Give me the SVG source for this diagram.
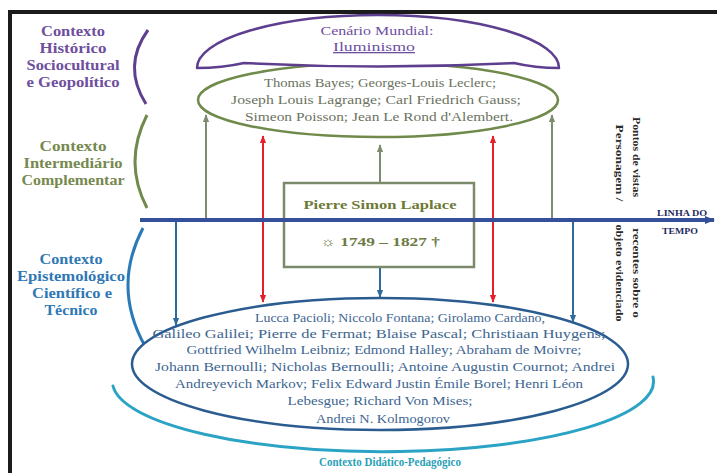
<svg xmlns="http://www.w3.org/2000/svg" width="717" height="473" viewBox="0 0 717 473">
  <defs>
    <style>
      text { font-family: "Liberation Serif", "Times New Roman", serif; }
      .lbl { font-weight: bold; font-size: 14px; text-anchor: middle; }
      .pur { fill: #6e4f9e; }
      .grn { fill: #76894f; }
      .blu { fill: #2f78b5; }
      .names { font-size: 12.5px; text-anchor: middle; }
      .gnames { fill: #6b7260; }
      .bnames { fill: #3d6591; }
      .vert { font-weight: bold; font-size: 11px; text-anchor: middle; fill: #2a2a2a; }
      .conn line { fill: none; }
      .g-arrow { stroke: #7d8c6d; stroke-width: 2; marker-end: url(#ahG); }
      .r-arrow { stroke: #e3202c; stroke-width: 2; marker-start: url(#ahR); marker-end: url(#ahR); }
      .b-arrow { stroke: #2f6a9c; stroke-width: 2; marker-end: url(#ahB); }
    </style>
    <marker id="ahG" viewBox="0 0 10 10" refX="9" refY="5" markerWidth="8" markerHeight="8" markerUnits="userSpaceOnUse" orient="auto">
      <path d="M0,1 L10,5 L0,9 z" fill="#7d8c6d"/>
    </marker>
    <marker id="ahR" viewBox="0 0 10 10" refX="9" refY="5" markerWidth="8" markerHeight="8" markerUnits="userSpaceOnUse" orient="auto-start-reverse">
      <path d="M0,1 L10,5 L0,9 z" fill="#e3202c"/>
    </marker>
    <marker id="ahB" viewBox="0 0 10 10" refX="9" refY="5" markerWidth="8" markerHeight="8" markerUnits="userSpaceOnUse" orient="auto">
      <path d="M0,1 L10,5 L0,9 z" fill="#2f6a9c"/>
    </marker>
    <marker id="ahT" viewBox="0 0 10 10" refX="9" refY="5" markerWidth="10" markerHeight="10" markerUnits="userSpaceOnUse" orient="auto">
      <path d="M0,1 L10,5 L0,9 z" fill="#34509a"/>
    </marker>
  </defs>

  <rect width="717" height="473" fill="#ffffff"/>

  <!-- frame -->
  <rect x="8" y="10" width="709" height="4" fill="#1b1b1b"/>
  <rect x="8" y="10" width="4" height="463" fill="#1b1b1b"/>

  <!-- left context labels with brackets -->
  <g id="ctx-historico">
    <text class="lbl pur" x="73" y="36" textLength="64" lengthAdjust="spacingAndGlyphs">Contexto</text>
    <text class="lbl pur" x="73" y="53" textLength="67" lengthAdjust="spacingAndGlyphs">Histórico</text>
    <text class="lbl pur" x="73" y="70" textLength="93" lengthAdjust="spacingAndGlyphs">Sociocultural</text>
    <text class="lbl pur" x="73" y="87" textLength="93" lengthAdjust="spacingAndGlyphs">e Geopolítico</text>
    <path d="M148,30 Q122,66 146,104" fill="none" stroke="#5e3f8f" stroke-width="3"/>
  </g>
  <g id="ctx-intermediario">
    <text class="lbl grn" x="73" y="151" textLength="67" lengthAdjust="spacingAndGlyphs">Contexto</text>
    <text class="lbl grn" x="73" y="168" textLength="99" lengthAdjust="spacingAndGlyphs">Intermediário</text>
    <text class="lbl grn" x="73" y="185" textLength="103" lengthAdjust="spacingAndGlyphs">Complementar</text>
    <path d="M147,115 Q123,162 147,208" fill="none" stroke="#6f8a4a" stroke-width="3"/>
  </g>
  <g id="ctx-epistemologico">
    <text class="lbl blu" x="71" y="264" textLength="63" lengthAdjust="spacingAndGlyphs">Contexto</text>
    <text class="lbl blu" x="71" y="281" textLength="108" lengthAdjust="spacingAndGlyphs">Epistemológico</text>
    <text class="lbl blu" x="72" y="298" textLength="80" lengthAdjust="spacingAndGlyphs">Científico e</text>
    <text class="lbl blu" x="71" y="315" textLength="53" lengthAdjust="spacingAndGlyphs">Técnico</text>
    <path d="M143,228 Q112,287 145,346" fill="none" stroke="#2a7ab8" stroke-width="3"/>
  </g>

  <!-- contemporaries ellipse -->
  <g id="contemporaneos">
    <ellipse cx="378" cy="100" rx="180" ry="37" fill="#ffffff" stroke="#6f8a4a" stroke-width="2.5"/>
    <text class="names gnames" x="380" y="87" textLength="232" lengthAdjust="spacingAndGlyphs">Thomas Bayes; Georges-Louis Leclerc;</text>
    <text class="names gnames" x="376" y="104" textLength="290" lengthAdjust="spacingAndGlyphs">Joseph Louis Lagrange; Carl Friedrich Gauss;</text>
    <text class="names gnames" x="379" y="121" textLength="268" lengthAdjust="spacingAndGlyphs">Simeon Poisson; Jean Le Rond d'Alembert.</text>
  </g>

  <!-- world scenario dome -->
  <g id="cenario-mundial">
    <path d="M197,68 A181,53 0 0 1 559,68 Q535,68 514,63 Q378,70 244,63 Q222,68 197,68 z" fill="#ffffff" stroke="#5e3f8f" stroke-width="2.5" stroke-linejoin="round"/>
    <text class="pur" x="377" y="35" font-size="13" text-anchor="middle" textLength="113" lengthAdjust="spacingAndGlyphs">Cenário Mundial:</text>
    <text class="pur" x="374" y="51" font-size="13" text-anchor="middle" text-decoration="underline" textLength="82" lengthAdjust="spacingAndGlyphs">Iluminismo</text>
  </g>

  <!-- teaching arc under the predecessors -->
  <g id="didatico">
    <path d="M113,386 A270,70 0 0 0 653,377" fill="none" stroke="#2ba3c5" stroke-width="3" stroke-linecap="round"/>
    <text x="390" y="466" font-size="13" font-weight="bold" text-anchor="middle" fill="#2a9fb8" textLength="142" lengthAdjust="spacingAndGlyphs">Contexto Didático-Pedagógico</text>
  </g>
  <!-- predecessors ellipse -->
  <g id="precursores">
    <ellipse cx="380" cy="364" rx="248" ry="66" fill="#ffffff" stroke="#2b5c8f" stroke-width="2.5"/>
    <text class="names bnames" x="400" y="322" textLength="290" lengthAdjust="spacingAndGlyphs">Lucca Pacioli; Niccolo Fontana; Girolamo Cardano,</text>
    <text class="names bnames" x="379" y="338" textLength="453" lengthAdjust="spacingAndGlyphs">Galileo Galilei; Pierre de Fermat; Blaise Pascal; Christiaan Huygens;</text>
    <text class="names bnames" x="384" y="354" textLength="395" lengthAdjust="spacingAndGlyphs">Gottfried Wilhelm Leibniz; Edmond Halley; Abraham de Moivre;</text>
    <text class="names bnames" x="385" y="371" textLength="460" lengthAdjust="spacingAndGlyphs">Johann Bernoulli; Nicholas Bernoulli; Antoine Augustin Cournot; Andrei</text>
    <text class="names bnames" x="379" y="388" textLength="408" lengthAdjust="spacingAndGlyphs">Andreyevich Markov; Felix Edward Justin Émile Borel; Henri Léon</text>
    <text class="names bnames" x="380" y="405" textLength="185" lengthAdjust="spacingAndGlyphs">Lebesgue; Richard Von Mises;</text>
    <text class="names bnames" x="383" y="423" textLength="134" lengthAdjust="spacingAndGlyphs">Andrei N. Kolmogorov</text>
  </g>

  <!-- central person box -->
  <g id="laplace">
    <rect x="284" y="183" width="190" height="84" fill="#ffffff" stroke="#7b8a6a" stroke-width="2.5"/>
    <text x="380" y="209" font-size="13.5" font-weight="bold" text-anchor="middle" fill="#6c7a35" textLength="153" lengthAdjust="spacingAndGlyphs">Pierre Simon Laplace</text>
    <text x="380" y="246" font-size="12.5" font-weight="bold" text-anchor="middle" fill="#6c7a45" textLength="120" lengthAdjust="spacingAndGlyphs">☼ 1749 – 1827 †</text>
  </g>

  <!-- connectors -->
  <g id="connectors" class="conn">
    <line class="g-arrow" x1="206" y1="219" x2="206" y2="115"/>
    <line class="g-arrow" x1="552" y1="219" x2="552" y2="115"/>
    <line class="g-arrow" x1="380" y1="182" x2="380" y2="145"/>
    <line class="r-arrow" x1="263" y1="136" x2="263" y2="302"/>
    <line class="r-arrow" x1="493" y1="136" x2="493" y2="302"/>
    <line class="b-arrow" x1="176" y1="221" x2="176" y2="325"/>
    <line class="b-arrow" x1="573" y1="221" x2="573" y2="322"/>
    <line class="b-arrow" x1="380" y1="268" x2="380" y2="297"/>
    <line x1="140" y1="220" x2="714" y2="220" stroke="#34509a" stroke-width="4" marker-end="url(#ahT)"/>
  </g>

  <!-- time line label -->
  <g id="linha-do-tempo">
    <text x="682" y="216" font-size="9" font-weight="bold" text-anchor="middle" fill="#1f2b5e" textLength="50" lengthAdjust="spacingAndGlyphs">LINHA DO</text>
    <text x="680" y="234" font-size="9" font-weight="bold" text-anchor="middle" fill="#1f2b5e" textLength="36" lengthAdjust="spacingAndGlyphs">TEMPO</text>
  </g>

  <!-- vertical note -->
  <g id="pontos-de-vista">
    <text class="vert" transform="translate(633,157) rotate(90)" textLength="80" lengthAdjust="spacingAndGlyphs">Pontos de vistas</text>
    <text class="vert" transform="translate(616,163) rotate(90)" textLength="77" lengthAdjust="spacingAndGlyphs">Personagem /</text>
    <text class="vert" transform="translate(633,273) rotate(90)" textLength="90" lengthAdjust="spacingAndGlyphs">recentes sobre o</text>
    <text class="vert" transform="translate(616,273) rotate(90)" textLength="97" lengthAdjust="spacingAndGlyphs">objeto evidenciado</text>
  </g>
</svg>
